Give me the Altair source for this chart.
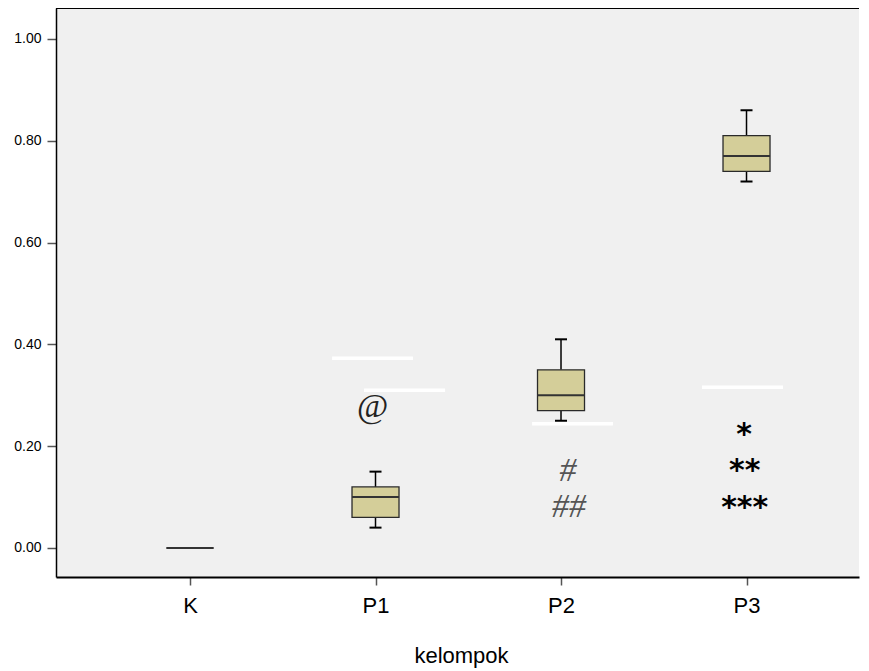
import altair as alt
import pandas as pd

# ---- data ----
groups = ["K", "P1", "P2", "P3"]
group_pos = [0, 1, 2, 3]
whisker_low = [0.0, 0.04, 0.25, 0.72]
q1 = [0.0, 0.06, 0.27, 0.74]
median = [0.0, 0.10, 0.30, 0.77]
q3 = [0.0, 0.12, 0.35, 0.81]
whisker_high = [0.0, 0.15, 0.41, 0.86]

# white annotation strokes
line_x_start = [0.766, 0.938, 1.844, 2.760]
line_x_end = [1.202, 1.375, 2.280, 3.197]
line_y = [0.373, 0.310, 0.244, 0.316]

# significance symbols
at_text = ["@"]
at_x = [0.985]
at_y = [0.276]
hash_text = ["#", "##"]
hash_x = [2.038, 2.043]
hash_y = [0.153, 0.0825]
star_text = ["*", "**", "***"]
star_x = [2.987, 2.99, 2.99]
star_y = [0.234, 0.163, 0.090]

y_ticks = [0.0, 0.2, 0.4, 0.6, 0.8, 1.0]

# ---- layout ----
PLOT_W = 803
PLOT_H = 569
X_DOMAIN = [-0.7224, 3.6064]
Y_DOMAIN = [-0.057, 1.0609]

boxes = pd.DataFrame({
    "pos": group_pos, "group": groups, "lo": whisker_low, "q1": q1,
    "med": median, "q3": q3, "hi": whisker_high,
})
lines = pd.DataFrame({"xs": line_x_start, "xe": line_x_end, "y": line_y})
at_df = pd.DataFrame({"t": at_text, "x": at_x, "y": at_y})
hash_df = pd.DataFrame({"t": hash_text, "x": hash_x, "y": hash_y})
star_df = pd.DataFrame({"t": star_text, "x": star_x, "y": star_y})

x_scale = alt.Scale(domain=X_DOMAIN, nice=False, zero=False)
y_scale = alt.Scale(domain=Y_DOMAIN, nice=False, zero=False)

x_axis = alt.Axis(
    values=group_pos,
    labelExpr=f"{groups}[datum.value]",
    grid=False,
    tickSize=8, tickColor="#555555", tickWidth=1.5,
    domainColor="#000000", domainWidth=2,
    labelFont="Liberation Sans", labelFontSize=22, labelColor="#000000",
    labelBaseline="alphabetic", labelPadding=27,
    labelFlush=False, labelOverlap=False,
    title="kelompok", titleFont="Liberation Sans", titleFontSize=22,
    titleFontWeight="normal", titleColor="#000000",
    titleX=405, titleY=85, titleBaseline="alphabetic", titleAlign="center",
)
y_axis = alt.Axis(
    values=y_ticks, format=".2f", grid=False,
    tickSize=9, tickColor="#555555", tickWidth=1.5,
    domainColor="#000000", domainWidth=1.5,
    labelFont="Liberation Sans", labelFontSize=14, labelColor="#000000",
    labelPadding=6, labelFlush=False, labelOverlap=False,
    title=None,
)

base = alt.Chart(boxes)
X = alt.X("pos:Q", scale=x_scale, axis=x_axis)

whisk_low = base.mark_rule(color="#000000", strokeWidth=1.5).encode(
    x=X, y=alt.Y("lo:Q", scale=y_scale, axis=y_axis), y2="q1:Q")
whisk_high = base.mark_rule(color="#000000", strokeWidth=1.5).encode(
    x=X, y=alt.Y("q3:Q", scale=y_scale, axis=y_axis), y2="hi:Q")
cap_low = base.mark_rule(color="#000000", strokeWidth=2, xOffset=-6, x2Offset=6).encode(
    x=X, x2="pos:Q", y=alt.Y("lo:Q", scale=y_scale, axis=y_axis))
cap_high = base.mark_rule(color="#000000", strokeWidth=2, xOffset=-6, x2Offset=6).encode(
    x=X, x2="pos:Q", y=alt.Y("hi:Q", scale=y_scale, axis=y_axis))
box = base.mark_rect(fill="#d4ce99", stroke="#2a2a2a", strokeWidth=1.3,
                     xOffset=-23.5, x2Offset=23.5).encode(
    x=X, x2="pos:Q", y=alt.Y("q1:Q", scale=y_scale, axis=y_axis), y2="q3:Q")
med = base.mark_rule(color="#333333", strokeWidth=2, xOffset=-23.5, x2Offset=23.5).encode(
    x=X, x2="pos:Q", y=alt.Y("med:Q", scale=y_scale, axis=y_axis))

white = alt.Chart(lines).mark_rule(color="#ffffff", strokeWidth=3.5).encode(
    x=alt.X("xs:Q", scale=x_scale, axis=x_axis), x2="xe:Q",
    y=alt.Y("y:Q", scale=y_scale, axis=y_axis))

at_mark = alt.Chart(at_df).mark_text(
    font="Liberation Serif", fontSize=34, color="#222222",
    baseline="alphabetic", dy=9).encode(
    x=alt.X("x:Q", scale=x_scale, axis=x_axis),
    y=alt.Y("y:Q", scale=y_scale, axis=y_axis), text="t:N")
hash_mark = alt.Chart(hash_df).mark_text(
    font="Liberation Serif", fontSize=34, fontStyle="italic", color="#555555",
    baseline="alphabetic", dy=11).encode(
    x=alt.X("x:Q", scale=x_scale, axis=x_axis),
    y=alt.Y("y:Q", scale=y_scale, axis=y_axis), text="t:N")
star_mark = alt.Chart(star_df).mark_text(
    font="DejaVu Sans", fontSize=30, fontWeight="bold", color="#000000",
    baseline="alphabetic", dy=15).encode(
    x=alt.X("x:Q", scale=x_scale, axis=x_axis),
    y=alt.Y("y:Q", scale=y_scale, axis=y_axis), text="t:N")

top_border = alt.Chart(boxes).mark_rule(color="#000000", strokeWidth=1.5).encode(
    x=alt.value(0), x2=alt.value(PLOT_W), y=alt.value(0))

chart = alt.layer(
    white, whisk_low, whisk_high, cap_low, cap_high, box, med,
    at_mark, hash_mark, star_mark, top_border,
).properties(
    width=PLOT_W, height=PLOT_H,
    autosize=alt.AutoSizeParams(type="none"),
    padding={"left": 48, "top": 0, "right": 2, "bottom": 92},
    background="#ffffff",
).configure_view(
    fill="#f0f0f0", stroke="transparent", strokeWidth=0
).configure_axisRight(
    domain=False, ticks=False, labels=False, grid=False
).configure_axisTop(
    domain=False, ticks=False, labels=False, grid=False
)

chart.save("out.html", embed_options={"renderer": "svg", "actions": False})
